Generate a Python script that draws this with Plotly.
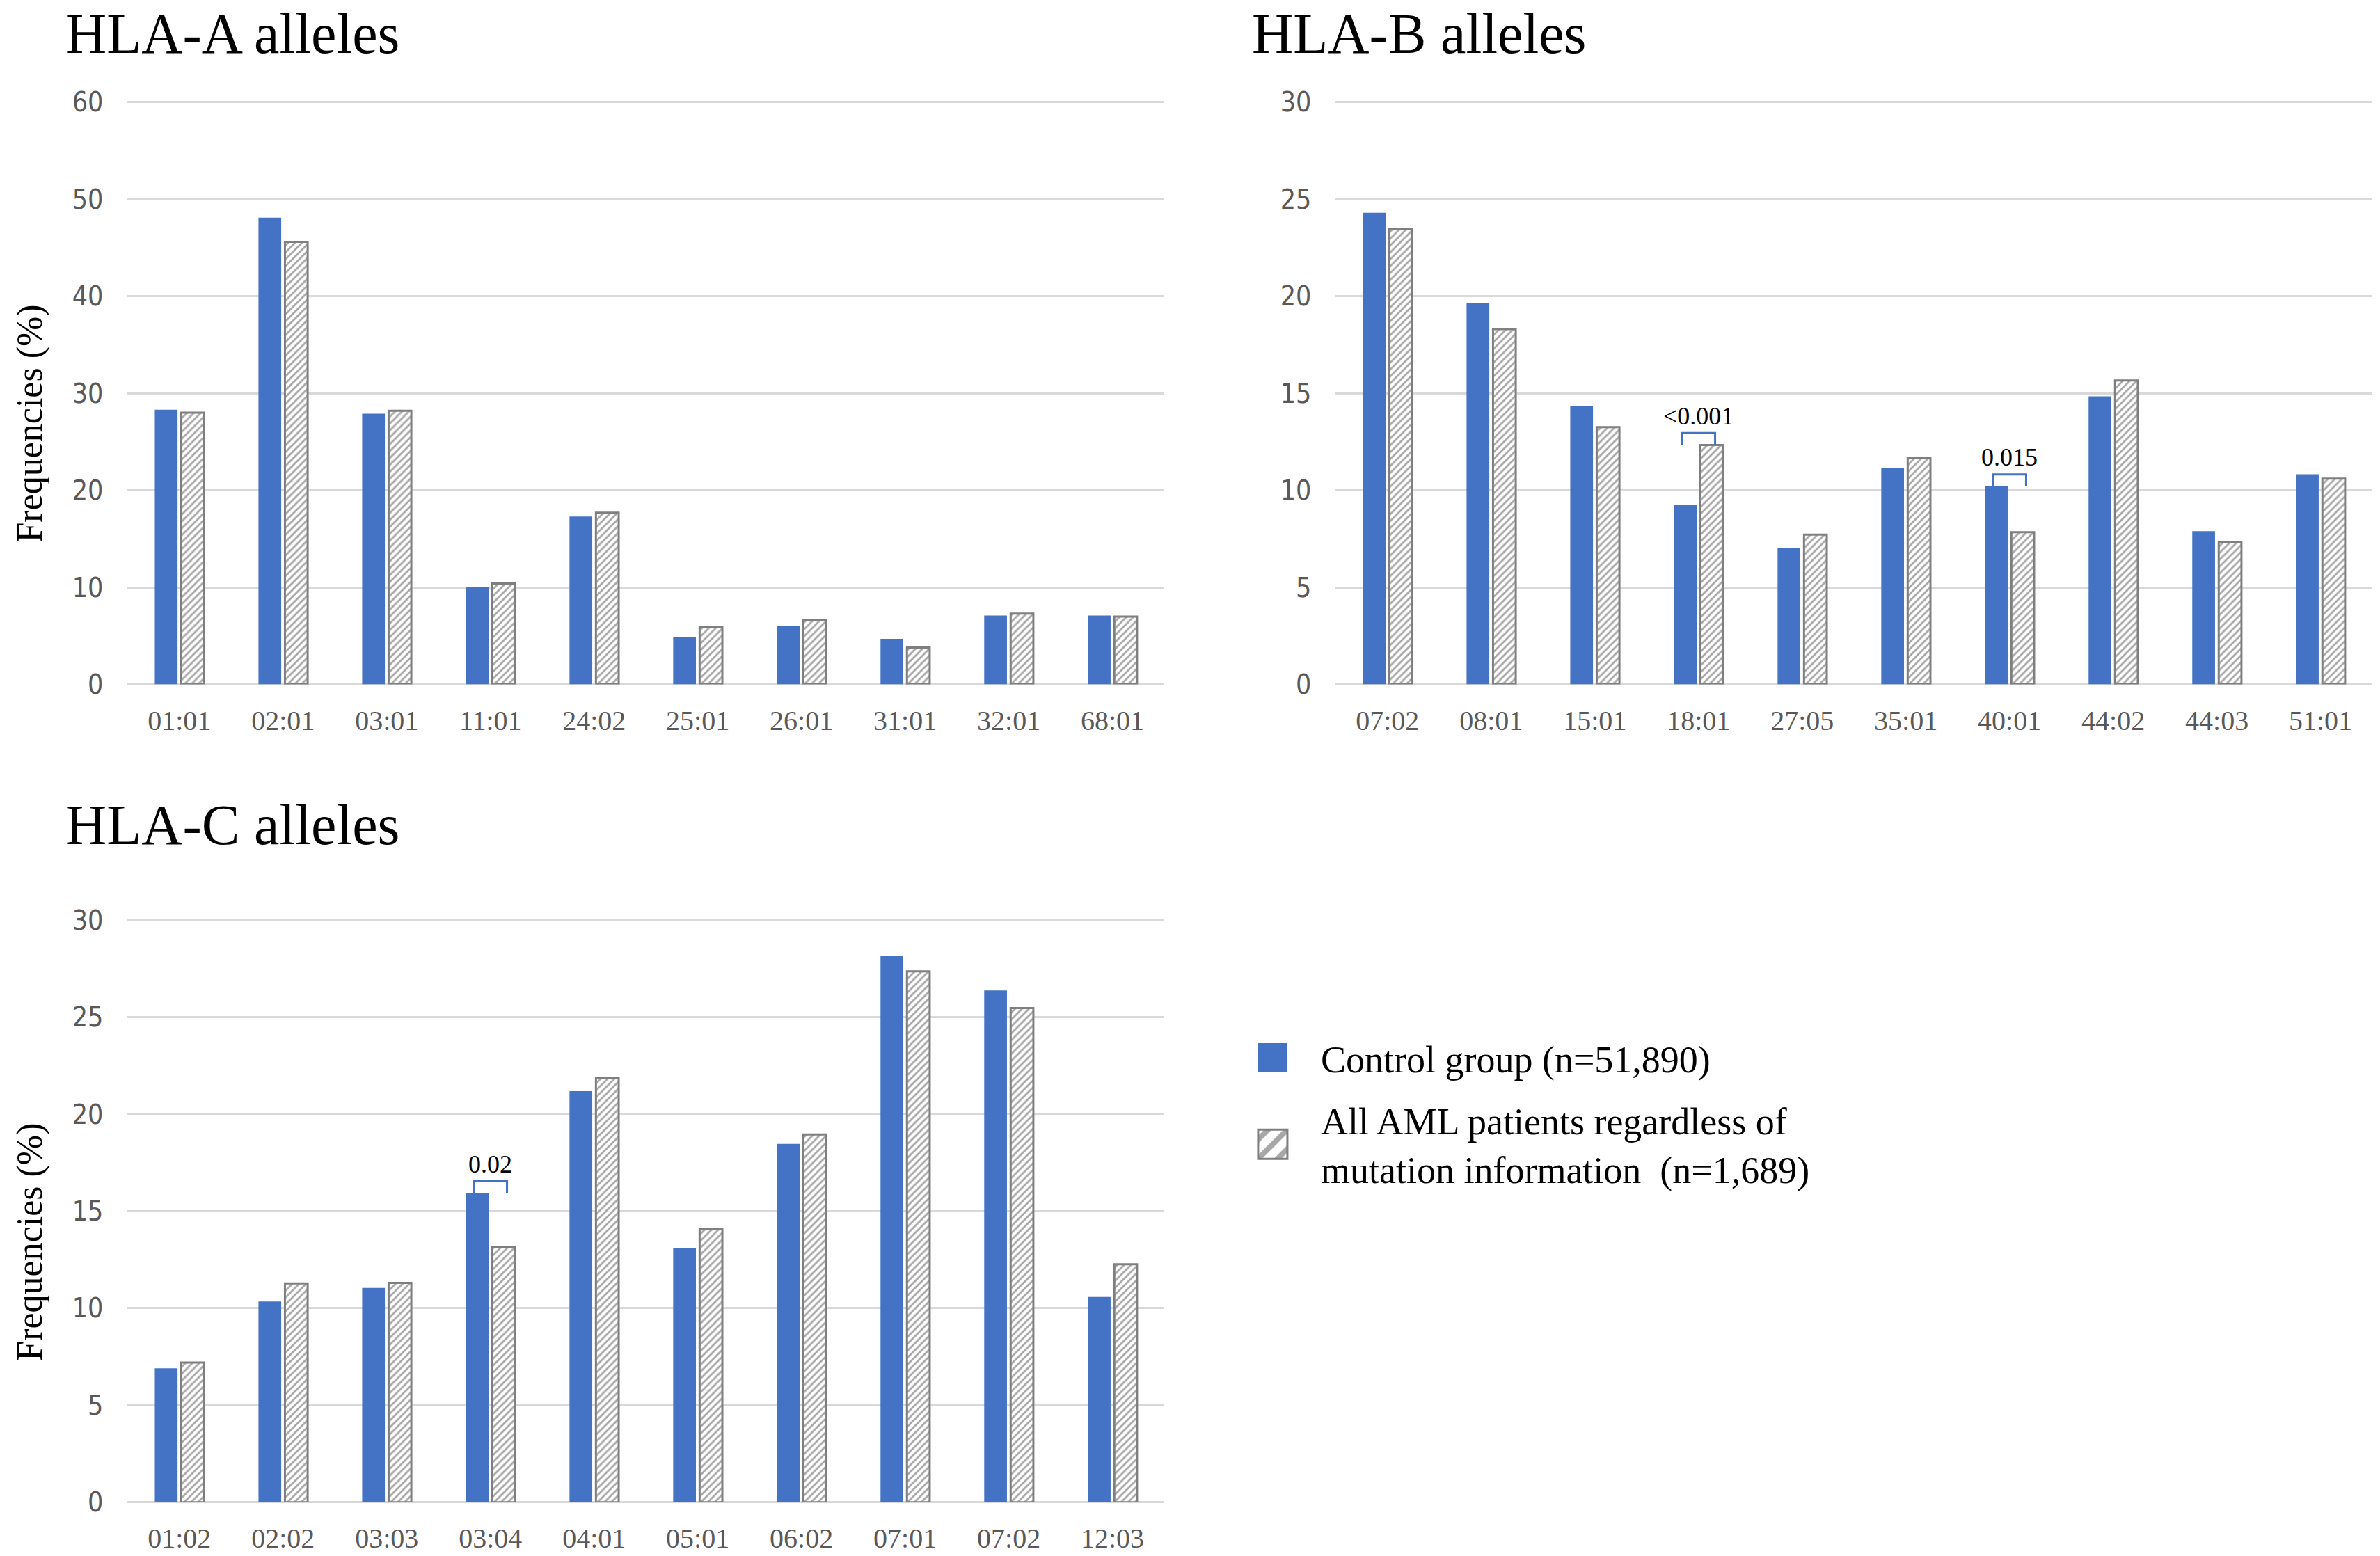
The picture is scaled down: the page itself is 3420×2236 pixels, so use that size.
import plotly.graph_objects as go

# ---------------- data ----------------
a_alleles = ["01:01", "02:01", "03:01", "11:01", "24:02", "25:01", "26:01", "31:01", "32:01", "68:01"]
a_control = [28.3, 48.1, 27.9, 10.0, 17.3, 4.9, 6.0, 4.7, 7.1, 7.1]
a_aml = [28.0, 45.6, 28.2, 10.4, 17.7, 5.9, 6.6, 3.8, 7.3, 7.0]

b_alleles = ["07:02", "08:01", "15:01", "18:01", "27:05", "35:01", "40:01", "44:02", "44:03", "51:01"]
b_control = [24.3, 19.65, 14.36, 9.27, 7.04, 11.15, 10.2, 14.84, 7.9, 10.83]
b_aml = [23.46, 18.3, 13.26, 12.33, 7.72, 11.68, 7.84, 15.66, 7.32, 10.6]

c_alleles = ["01:02", "02:02", "03:03", "03:04", "04:01", "05:01", "06:02", "07:01", "07:02", "12:03"]
c_control = [6.9, 10.34, 11.04, 15.92, 21.18, 13.09, 18.46, 28.13, 26.37, 10.58]
c_aml = [7.2, 11.28, 11.3, 13.15, 21.86, 14.1, 18.95, 27.35, 25.46, 12.26]

panel_titles = ["HLA-A alleles", "HLA-B alleles", "HLA-C alleles"]
series_names = ["Control group (n=51,890)",
                "All AML patients regardless of<br>mutation information  (n=1,689)"]

# p-value annotations
b_pvalues = [("18:01", "<0.001"), ("40:01", "0.015")]
c_pvalues = [("03:04", "0.02")]

# ---------------- style ----------------
BLUE = "#4472C4"
GRID = "#D9D9D9"
TICK = "#595959"
SERIF = "Liberation Serif, Times New Roman, serif"
NARROW = "Liberation Sans Narrow, Arial Narrow, DejaVu Sans Condensed, sans-serif"

panels = [
    dict(alleles=a_alleles, ctrl=a_control, aml=a_aml, ymax=60, dtick=10,
         xd=[0.0536, 0.4892], yd=[0.5606, 0.9434], pvals=[]),
    dict(alleles=b_alleles, ctrl=b_control, aml=b_aml, ymax=30, dtick=5,
         xd=[0.5612, 0.9968], yd=[0.5606, 0.9434], pvals=b_pvalues),
    dict(alleles=c_alleles, ctrl=c_control, aml=c_aml, ymax=30, dtick=5,
         xd=[0.0536, 0.4892], yd=[0.0247, 0.4075], pvals=c_pvalues),
]

fig = go.Figure()
annotations = []
for k, p in enumerate(panels):
    sfx = "" if k == 0 else str(k + 1)
    xref, yref = "x" + sfx, "y" + sfx
    xs = list(range(len(p["alleles"])))
    fig.add_trace(go.Bar(
        x=xs, y=p["ctrl"], name=series_names[0], xaxis=xref, yaxis=yref,
        marker=dict(color=BLUE, line=dict(width=0)),
        offsetgroup="ctrl", legendgroup="ctrl", showlegend=(k == 0),
    ))
    fig.add_trace(go.Bar(
        x=xs, y=p["aml"], name=series_names[1], xaxis=xref, yaxis=yref,
        marker=dict(color="white", line=dict(color="#7F7F7F", width=3),
                    pattern=dict(shape="/", fgcolor="#505050", bgcolor="white",
                                 size=7, solidity=0.4)),
        offsetgroup="aml", legendgroup="aml", showlegend=(k == 0),
    ))
    # significance brackets
    for allele, label in p["pvals"]:
        i = p["alleles"].index(allele)
        m = max(p["ctrl"][i], p["aml"][i])
        fig.add_trace(go.Scatter(
            x=[i - 0.16, i - 0.16, i + 0.16, i + 0.16],
            y=[m + 0.02, m + 0.62, m + 0.62, m + 0.02],
            mode="lines", line=dict(color=BLUE, width=3),
            xaxis=xref, yaxis=yref, showlegend=False, hoverinfo="skip",
        ))
        annotations.append(dict(
            x=i, y=m + 1.5, xref=xref, yref=yref, text=label, showarrow=False,
            xanchor="center", yanchor="middle",
            font=dict(family=SERIF, size=36, color="black"),
        ))
    fig.update_layout(**{
        "xaxis" + sfx: dict(
            domain=p["xd"], anchor=yref, range=[-0.5, len(xs) - 0.5],
            tickmode="array", tickvals=xs, ticktext=p["alleles"],
            showgrid=False, zeroline=False, showline=False, ticks="",
            ticklabelstandoff=24,
            tickfont=dict(family=SERIF, size=40, color=TICK),
        ),
        "yaxis" + sfx: dict(
            domain=p["yd"], anchor=xref, range=[0, p["ymax"] * 1.003], dtick=p["dtick"],
            showgrid=True, gridcolor=GRID, gridwidth=3,
            zeroline=True, zerolinecolor=GRID, zerolinewidth=3,
            showline=False, ticks="", ticklabelstandoff=34,
            tickfont=dict(family=NARROW, size=39, color=TICK),
        ),
    })

# panel titles
title_pos = [(0.0268, 0.987), (0.5255, 0.987), (0.0268, 0.4687)]
for t, (tx, ty) in zip(panel_titles, title_pos):
    annotations.append(dict(
        x=tx, y=ty, xref="paper", yref="paper", text=t, showarrow=False,
        xanchor="left", yanchor="middle",
        font=dict(family=SERIF, size=82, color="black"),
    ))
# y-axis titles
for ty in (0.7318, 0.1955):
    annotations.append(dict(
        x=0.0127, y=ty, xref="paper", yref="paper", text="Frequencies (%)",
        showarrow=False, textangle=-90, xanchor="center", yanchor="middle",
        font=dict(family=SERIF, size=52, color="black"),
    ))

fig.update_layout(
    autosize=True, margin=dict(l=0, r=0, t=0, b=0),
    paper_bgcolor="white", plot_bgcolor="white",
    barmode="group", bargap=0.49, bargroupgap=0.14,
    annotations=annotations,
    legend=dict(
        x=0.5146, y=0.335, xanchor="left", yanchor="top",
        font=dict(family=SERIF, size=54, color="black"),
        itemwidth=128, tracegroupgap=16, bgcolor="rgba(0,0,0,0)",
    ),
    showlegend=True,
)

post = """
document.documentElement.style.margin = '0';
document.documentElement.style.overflow = 'hidden';
document.body.style.margin = '0';
document.body.style.overflow = 'hidden';
var gd = document.getElementById('{plot_id}');
function fixLegend(){
  var ps = gd.querySelectorAll('.legend .legendpoints path');
  ps.forEach(function(p){
    if (!p.getAttribute('data-scaled')) {
      var t = p.getAttribute('transform') || '';
      p.setAttribute('transform', t + ' scale(3.5)');
      p.style.vectorEffect = 'non-scaling-stroke';
      p.setAttribute('data-scaled', '1');
    }
  });
}
gd.on('plotly_afterplot', fixLegend);
Plotly.Plots.resize(gd);
fixLegend();
"""
fig.write_html("out.html", post_script=post, default_width="100vw", default_height="100vh",
               config={"displayModeBar": False})
